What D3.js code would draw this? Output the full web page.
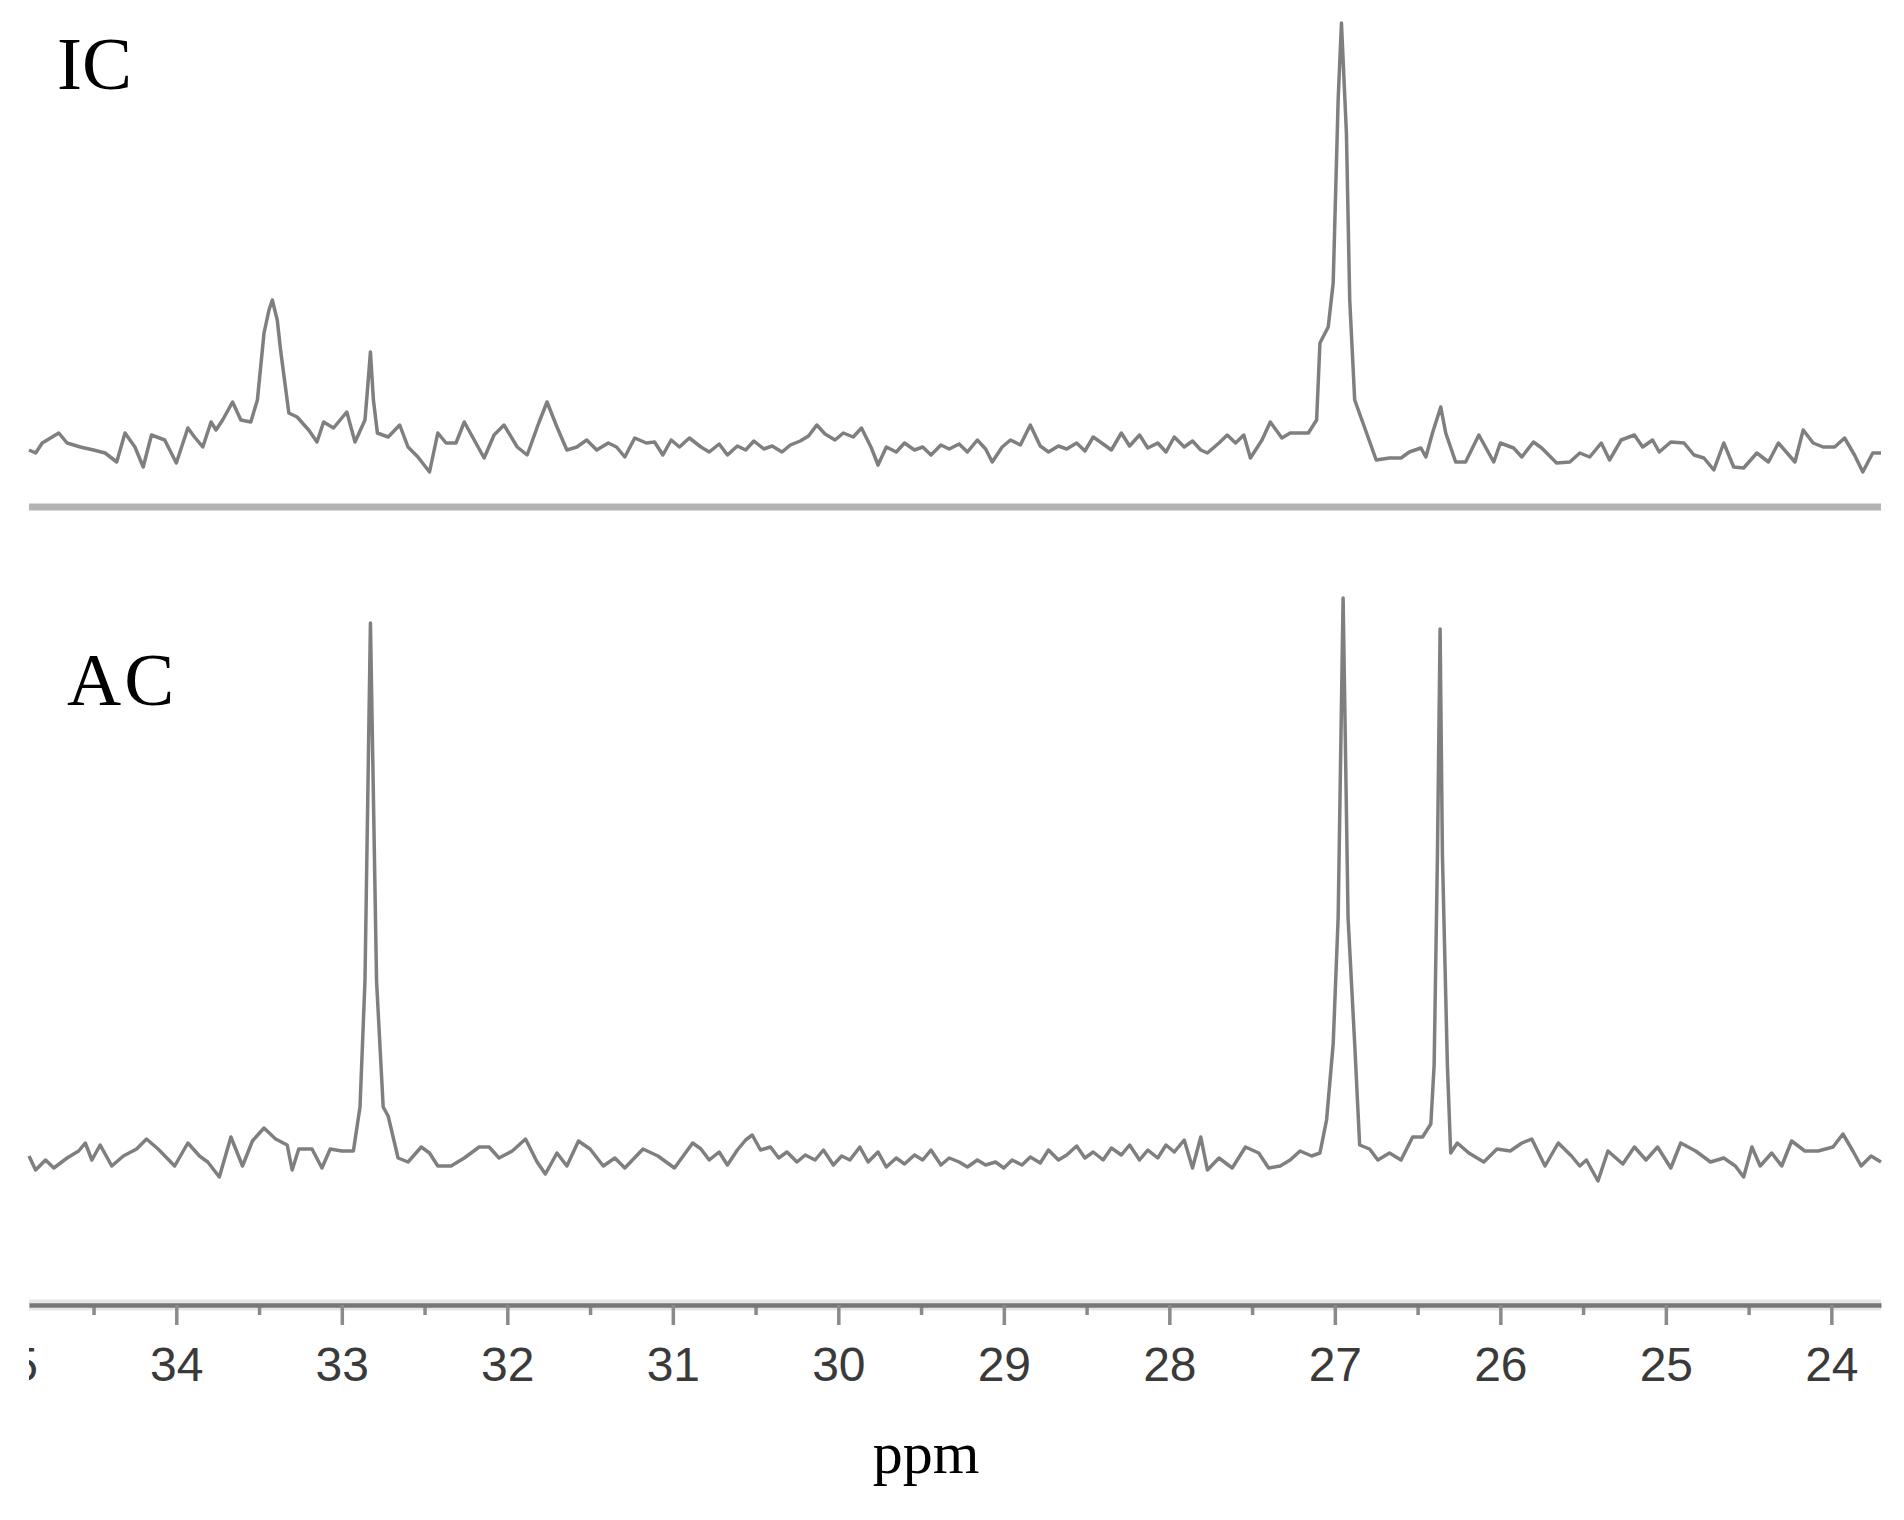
<!DOCTYPE html>
<html lang="en">
<head>
<meta charset="utf-8">
<title>IC / AC spectra</title>
<script src="https://d3js.org/d3.v7.min.js"></script>
<style>
  body { margin: 0; background: #fff; }
  .axis text { font-family: "Liberation Sans", Arial, sans-serif; font-size: 48px; fill: #3a3a3a; }
  .axis line { stroke: #8a8a8a; stroke-width: 3.5; }
  .axis path { stroke: #777; stroke-width: 4.5; }
  .label { font-family: "Liberation Serif", "Times New Roman", serif; fill: #000; }
  .trace { fill: none; stroke: #7f7f7f; stroke-width: 3.5; stroke-linejoin: round; }
</style>
</head>
<body>
<script>
var width = 1904,
    height = 1520;

// ppm axis ticks
var majorTicks = [35, 34, 33, 32, 31, 30, 29, 28, 27, 26, 25, 24];
var minorTicks = [34.5, 33.5, 32.5, 31.5, 30.5, 29.5, 28.5, 27.5, 26.5, 25.5, 24.5];

var panelLabels = ["IC", "AC"];
var axisTitle = "ppm";

// IC spectrum, [ppm, intensity]
var icSpectrum = [
  [34.89,0.0],[34.85,-0.3],[34.81,0.7],[34.71,1.7],[34.66,0.7],[34.58,0.3],[34.50,0.0],[34.43,-0.3],
  [34.36,-1.2],[34.31,1.7],[34.25,0.3],[34.20,-1.7],[34.15,1.5],[34.07,1.0],[34.00,-1.3],[33.93,2.2],
  [33.89,1.3],[33.84,0.3],[33.79,2.8],[33.76,2.0],[33.72,3.0],[33.66,4.8],[33.61,3.0],[33.55,2.8],
  [33.51,5.0],[33.47,11.7],[33.44,14.0],[33.42,15.0],[33.39,13.0],[33.37,10.0],[33.32,3.7],[33.27,3.3],
  [33.20,2.0],[33.15,0.8],[33.11,2.8],[33.05,2.2],[32.97,3.8],[32.92,0.8],[32.86,3.0],[32.845,6.0],
  [32.827,9.8],[32.809,5.0],[32.785,1.7],[32.72,1.3],[32.65,2.5],[32.60,0.3],[32.54,-0.7],[32.47,-2.2],
  [32.42,1.7],[32.37,0.7],[32.31,0.7],[32.26,2.8],[32.19,0.7],[32.14,-0.8],[32.08,1.5],[32.02,2.5],
  [31.94,0.3],[31.88,-0.5],[31.81,2.7],[31.76,4.8],[31.70,2.3],[31.64,0.0],[31.58,0.3],[31.52,1.0],
  [31.46,0.0],[31.39,0.7],[31.34,0.3],[31.29,-0.7],[31.23,1.2],[31.16,0.7],[31.11,0.8],[31.06,-0.5],
  [31.01,1.0],[30.96,0.3],[30.90,1.2],[30.83,0.3],[30.78,-0.2],[30.72,0.6],[30.67,-0.5],[30.61,0.4],
  [30.56,0.0],[30.51,0.9],[30.45,0.1],[30.40,0.4],[30.34,-0.2],[30.29,0.5],[30.23,0.9],[30.18,1.4],
  [30.13,2.5],[30.08,1.6],[30.02,1.0],[29.97,1.7],[29.91,1.3],[29.86,2.2],[29.80,0.2],[29.76,-1.5],
  [29.71,0.3],[29.65,-0.2],[29.60,0.7],[29.54,0.0],[29.49,0.3],[29.44,-0.5],[29.38,0.5],[29.33,0.1],
  [29.27,0.6],[29.22,-0.2],[29.16,1.0],[29.11,0.1],[29.07,-1.2],[29.01,0.3],[28.96,1.0],[28.90,0.5],
  [28.84,2.5],[28.78,0.4],[28.73,-0.2],[28.67,0.4],[28.62,0.1],[28.56,0.7],[28.51,-0.1],[28.46,1.3],
  [28.40,0.6],[28.35,0.0],[28.29,1.7],[28.24,0.4],[28.18,1.5],[28.13,0.2],[28.07,0.7],[28.02,-0.2],
  [27.97,1.3],[27.91,0.3],[27.86,0.9],[27.81,0.0],[27.77,-0.3],[27.70,0.7],[27.65,1.5],[27.60,0.7],
  [27.55,1.5],[27.51,-0.8],[27.44,1.0],[27.39,2.8],[27.32,1.2],[27.27,1.7],[27.16,1.7],[27.11,3.0],
  [27.09,10.7],[27.04,12.3],[27.01,16.7],[26.98,35.0],[26.96,42.7],[26.93,31.7],[26.91,15.0],[26.88,5.0],
  [26.83,2.7],[26.75,-1.0],[26.67,-0.8],[26.60,-0.8],[26.55,-0.2],[26.48,0.2],[26.45,-0.7],[26.41,1.7],
  [26.36,4.3],[26.33,1.7],[26.27,-1.2],[26.21,-1.2],[26.13,1.5],[26.04,-1.2],[26.00,0.7],[25.92,0.2],
  [25.87,-0.7],[25.80,0.8],[25.75,0.2],[25.66,-1.3],[25.58,-1.2],[25.52,-0.3],[25.46,-0.7],[25.39,0.7],
  [25.34,-1.0],[25.27,1.0],[25.19,1.5],[25.14,0.3],[25.08,1.0],[25.04,-0.2],[24.97,0.8],[24.89,0.7],
  [24.83,-0.5],[24.77,-0.8],[24.71,-2.0],[24.65,0.7],[24.59,-1.7],[24.53,-1.8],[24.45,-0.3],[24.38,-1.2],
  [24.32,0.7],[24.22,-1.2],[24.17,2.0],[24.11,0.7],[24.05,0.3],[23.98,0.3],[23.92,1.2],[23.86,-0.5],
  [23.81,-2.2],[23.75,-0.3],[23.70,-0.3]
];

// AC spectrum, [ppm, intensity]
var acSpectrum = [
  [34.89,0.2],[34.85,-1.2],[34.79,-0.2],[34.74,-1.0],[34.66,0.0],[34.59,0.7],[34.55,1.5],[34.51,-0.2],
  [34.46,1.3],[34.39,-0.8],[34.32,0.2],[34.24,0.9],[34.18,1.9],[34.11,0.9],[34.01,-0.8],[33.93,1.5],
  [33.86,0.2],[33.81,-0.4],[33.74,-1.9],[33.67,2.1],[33.60,-0.8],[33.54,1.7],[33.47,3.0],[33.40,1.9],
  [33.33,1.3],[33.30,-1.2],[33.26,0.9],[33.18,0.9],[33.12,-1.0],[33.07,0.9],[33.00,0.7],[32.93,0.7],
  [32.89,5.1],[32.86,17.7],[32.827,53.5],[32.79,17.7],[32.75,5.1],[32.72,4.2],[32.66,0.0],[32.60,-0.4],
  [32.52,1.1],[32.47,0.5],[32.42,-0.8],[32.34,-0.8],[32.26,0.0],[32.17,1.1],[32.11,1.1],[32.05,0.0],
  [31.97,0.7],[31.89,1.9],[31.82,-0.4],[31.77,-1.6],[31.70,0.5],[31.64,-0.8],[31.57,1.7],[31.50,0.9],
  [31.42,-0.8],[31.35,0.0],[31.29,-1.0],[31.18,0.9],[31.09,0.2],[30.99,-1.0],[30.88,1.5],[30.83,0.9],
  [30.78,-0.2],[30.72,0.6],[30.67,-0.7],[30.61,0.8],[30.56,1.8],[30.52,2.3],[30.47,0.8],[30.41,1.1],
  [30.36,0.0],[30.31,0.6],[30.25,-0.4],[30.20,0.3],[30.14,-0.2],[30.09,0.8],[30.03,-0.7],[29.98,0.2],
  [29.93,-0.2],[29.87,1.1],[29.82,-0.4],[29.76,0.6],[29.71,-0.9],[29.65,0.0],[29.60,-0.6],[29.54,0.3],
  [29.49,-0.2],[29.44,0.8],[29.38,-0.7],[29.33,0.0],[29.27,-0.4],[29.22,-0.9],[29.16,-0.2],[29.11,-0.7],
  [29.05,-0.4],[29.00,-1.0],[28.95,-0.2],[28.89,-0.7],[28.84,0.1],[28.78,-0.5],[28.73,0.8],[28.67,-0.2],
  [28.62,0.3],[28.56,1.2],[28.51,0.0],[28.46,0.6],[28.40,-0.2],[28.35,1.0],[28.29,0.3],[28.24,1.3],
  [28.18,-0.2],[28.13,0.8],[28.07,0.0],[28.02,1.3],[27.97,0.6],[27.91,1.8],[27.86,-1.0],[27.81,2.1],
  [27.77,-1.2],[27.70,0.0],[27.62,-1.0],[27.54,1.1],[27.46,0.5],[27.40,-1.0],[27.33,-0.8],[27.27,-0.2],
  [27.21,0.7],[27.14,0.2],[27.09,0.5],[27.05,3.8],[27.01,11.4],[26.98,24.0],[26.95,56.0],[26.92,24.0],
  [26.88,11.4],[26.85,1.3],[26.79,0.9],[26.74,-0.2],[26.67,0.5],[26.60,-0.2],[26.53,2.1],[26.47,2.1],
  [26.42,3.4],[26.40,9.3],[26.38,30.3],[26.364,52.9],[26.35,30.3],[26.32,9.3],[26.30,0.5],[26.26,1.5],
  [26.19,0.5],[26.10,-0.4],[26.02,0.9],[25.94,0.7],[25.87,1.5],[25.81,1.9],[25.73,-0.8],[25.65,1.5],
  [25.57,0.2],[25.52,-0.8],[25.48,-0.2],[25.41,-2.3],[25.35,0.7],[25.26,-0.6],[25.19,1.1],[25.12,-0.2],
  [25.05,1.1],[24.97,-1.0],[24.91,1.5],[24.82,0.7],[24.73,-0.4],[24.65,0.0],[24.58,-0.8],[24.53,-1.9],
  [24.48,1.1],[24.43,-0.8],[24.36,0.5],[24.30,-0.8],[24.24,1.7],[24.16,0.7],[24.08,0.7],[23.99,1.1],
  [23.93,2.4],[23.87,0.7],[23.82,-0.8],[23.76,0.2],[23.70,-0.4]
];

var svg = d3.select("body")
    .append("svg")
    .attr("width", width)
    .attr("height", height);

// ppm runs right to left
var x = d3.scaleLinear()
    .domain([34.89, 23.70])
    .range([29, 1881]);

var yIC = d3.scaleLinear().domain([0, 42.7]).range([450, 23]);
var yAC = d3.scaleLinear().domain([0, 56]).range([1158, 598]);

var axisY = 1305;

svg.append("defs").append("clipPath")
    .attr("id", "axisClip")
  .append("rect")
    .attr("x", x.range()[0])
    .attr("y", 0)
    .attr("width", width - x.range()[0])
    .attr("height", height);

// line between the two spectra
svg.append("line")
    .attr("x1", x.range()[0]).attr("x2", x.range()[1])
    .attr("y1", 507).attr("y2", 507)
    .style("stroke", "#b3b3b3")
    .style("stroke-width", 7);

var icLine = d3.line()
    .x(function(d) { return x(d[0]); })
    .y(function(d) { return yIC(d[1]); });

var acLine = d3.line()
    .x(function(d) { return x(d[0]); })
    .y(function(d) { return yAC(d[1]); });

svg.append("path")
    .datum(icSpectrum)
    .attr("class", "trace")
    .attr("d", icLine);

svg.append("path")
    .datum(acSpectrum)
    .attr("class", "trace")
    .attr("d", acLine);

svg.append("text")
    .attr("class", "label")
    .attr("x", 57).attr("y", 89)
    .style("font-size", "75px")
    .text(panelLabels[0]);

svg.append("text")
    .attr("class", "label")
    .attr("x", 67).attr("y", 705)
    .style("font-size", "75px")
    .style("letter-spacing", "3px")
    .text(panelLabels[1]);

// axis: soft halo under the line
svg.append("line")
    .attr("x1", x.range()[0]).attr("x2", x.range()[1])
    .attr("y1", axisY).attr("y2", axisY)
    .style("stroke", "#e6e6e6")
    .style("stroke-width", 11);

var axisG = svg.append("g")
    .attr("clip-path", "url(#axisClip)");

axisG.append("g")
    .attr("class", "axis")
    .attr("transform", "translate(0," + axisY + ")")
    .call(d3.axisBottom(x)
        .tickValues(minorTicks)
        .tickSize(10)
        .tickSizeOuter(0)
        .tickFormat(""))
    .select(".domain").remove();

// 35 sits just past the left edge and is cut, as in the source figure
axisG.append("g")
    .attr("class", "axis")
    .attr("transform", "translate(0," + axisY + ")")
    .call(d3.axisBottom(x)
        .tickValues(majorTicks)
        .tickSize(20)
        .tickSizeOuter(0)
        .tickPadding(22)
        .tickFormat(d3.format("d")));

svg.append("text")
    .attr("class", "label")
    .attr("x", 926).attr("y", 1473)
    .attr("text-anchor", "middle")
    .style("font-size", "60px")
    .text(axisTitle);
</script>
</body>
</html>
